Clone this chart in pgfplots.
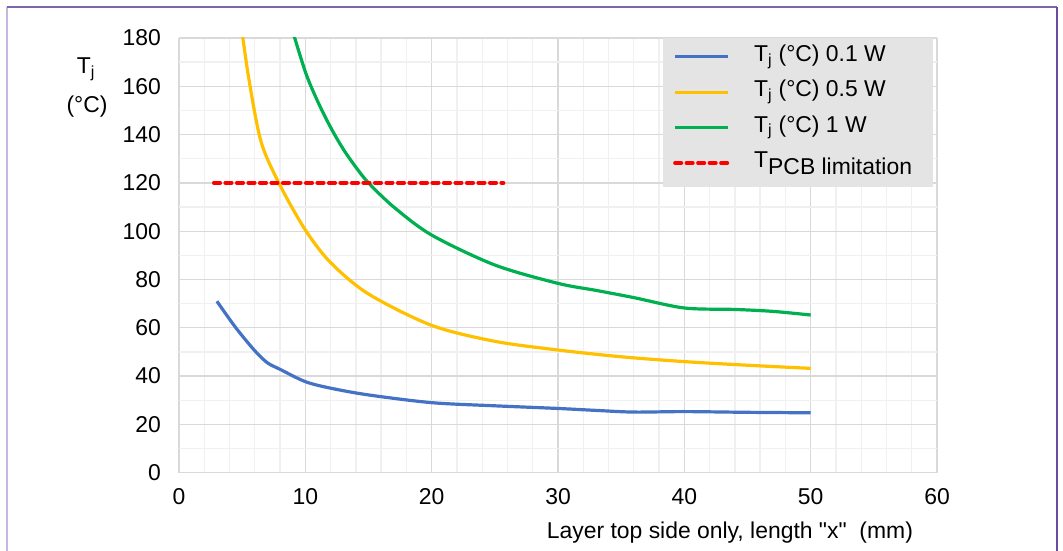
\documentclass[border=0pt]{standalone}
\usepackage{fontspec}
\setmainfont{Liberation Sans}[Ligatures=TeXOff]
\usepackage{pgfplots}
\pgfplotsset{compat=1.18}
\definecolor{cblue}{HTML}{4472C4}
\definecolor{cyellow}{HTML}{FFC000}
\definecolor{cgreen}{HTML}{00B050}
\definecolor{cred}{HTML}{FF0000}
\definecolor{gridmajor}{HTML}{D9D9D9}
\definecolor{gridminor}{HTML}{F0F0F0}
\definecolor{leggray}{HTML}{E4E4E4}
\definecolor{frameA}{HTML}{C4B8E0}
\definecolor{frameB}{HTML}{7A66A8}
\definecolor{frameC}{HTML}{6A4C9C}
\newcommand{\fnt}{\fontsize{23}{27}\selectfont}
\begin{document}
\begin{tikzpicture}[font=\fnt]
\useasboundingbox (0,0) rectangle (1063bp,551bp);
\draw[frameA, line width=1.5bp] (7bp,0bp) -- (7bp,544bp);
\draw[frameB, line width=1.5bp] (7bp,544bp) -- (1057bp,544bp);
\draw[frameC, line width=1.5bp] (1057bp,544bp) -- (1057bp,0bp);
\begin{axis}[
  scale only axis,
  width=758bp, height=434.7bp,
  at={(179bp,78.3bp)}, anchor=south west,
  xmin=0, xmax=60, ymin=0, ymax=180,
  xtick={0,10,...,60}, ytick={0,20,...,180},
  minor x tick num=4, minor y tick num=1,
  grid=both,
  major grid style={color=gridmajor, line width=1.3bp},
  minor grid style={color=gridminor, line width=1.3bp},
  axis line style={draw=none},
  tick style={draw=none},
  major tick length=0pt, minor tick length=0pt,
  /pgf/number format/assume math mode=true,
  ticklabel style={font=\fnt},
  xticklabel style={yshift=-12.5bp},
  yticklabel style={xshift=-14.5bp},
  legend style={draw=none, fill=none, at={(0.6517,0.9975)}, anchor=north west,
    inner sep=0pt, font=\fnt, row sep=0.4bp,
    nodes={inner sep=0pt, text height=22bp, text depth=13bp},
    /tikz/every odd column/.append style={column sep=24.5bp}},
  legend cell align=left,
  legend image code/.code={\draw[#1] (0bp,0bp) -- (53bp,0bp);},
]
\fill[leggray] (axis cs:38.31,118.3) rectangle (axis cs:59.68,180);
\addplot[cblue, line width=3.2bp, smooth, tension=0.5] coordinates {
(3,71) (4.5,60) (6,50.5) (7,45.5) (8,42.8) (10,37.7) (12,35) (15,32.2) (20,29) (25,27.7) (30,26.6) (33,25.8) (36,25.1) (40,25.3) (45,25) (50,24.8)};
\addlegendentry{T\textsubscript{j} (°C) 0.1 W}
\addplot[cyellow, line width=3.2bp, smooth, tension=0.5] coordinates {
(4.8,190) (5.5,164) (6.5,137) (8,119) (10,100.5) (12,87) (15,74) (20,61) (25,54.4) (30,50.8) (35,48) (40,46) (45,44.5) (50,43.2)};
\addlegendentry{T\textsubscript{j} (°C) 0.5 W}
\addplot[cgreen, line width=3.2bp, smooth, tension=0.5] coordinates {
(8.7,188) (10,166) (11,153.5) (12,143) (13,134) (14,126.5) (15,120) (17,110) (20,98.4) (25,86) (30,78.4) (33,75.5) (36,72.5) (40,68.2) (44,67.6) (47,66.8) (50,65.3)};
\addlegendentry{T\textsubscript{j} (°C) 1 W}
\addplot[cred, line width=3.5bp, line cap=round, dash pattern=on 6.5bp off 5bp] coordinates {
(2.75,120) (25.7,120)};
\addlegendentry{T\raisebox{-0.3em}{PCB limitation}}
\end{axis}
\node[anchor=base] at (85.8bp,477.7bp) {T\textsubscript{j}};
\node[anchor=base] at (87bp,438.7bp) {(°C)};
\node[anchor=base] at (729.9bp,12.3bp) {Layer top side only, length "x"\ \ (mm)};
\end{tikzpicture}
\end{document}
